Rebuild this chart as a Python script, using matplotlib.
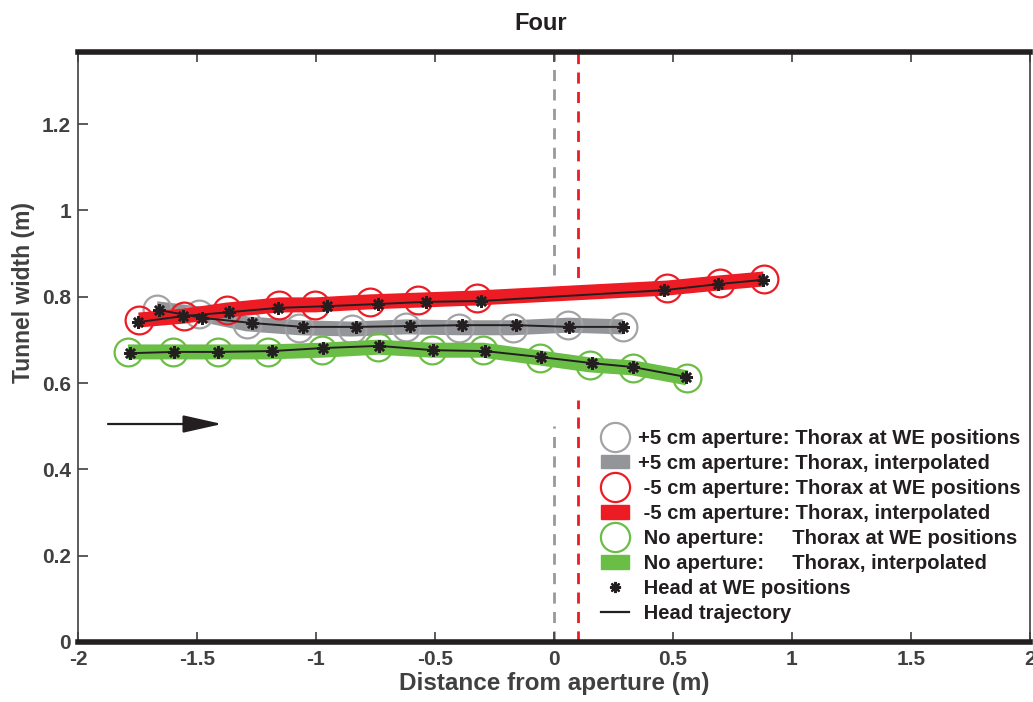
import numpy as np
import matplotlib
matplotlib.use("Agg")
import matplotlib.pyplot as plt
from matplotlib.lines import Line2D
from matplotlib.patches import Patch

plt.rcParams['font.family'] = ['Liberation Sans Narrow', 'Liberation Sans', 'DejaVu Sans']

# +5 cm aperture (gray)
plus_thorax_x = [-1.67, -1.49, -1.29, -1.07, -0.85, -0.62, -0.40, -0.17, 0.06, 0.29]
plus_thorax_y = [0.772, 0.760, 0.737, 0.728, 0.725, 0.730, 0.728, 0.728, 0.734, 0.730]
plus_head_x = [-1.660, -1.479, -1.269, -1.055, -0.832, -0.605, -0.387, -0.160, 0.063, 0.290]
plus_head_y = [0.769, 0.751, 0.739, 0.730, 0.730, 0.732, 0.734, 0.734, 0.730, 0.730]

# -5 cm aperture (red)
minus_thorax_x = [-1.744, -1.555, -1.374, -1.155, -1.004, -0.773, -0.571, -0.324, 0.475, 0.697, 0.882]
minus_thorax_y = [0.746, 0.755, 0.769, 0.781, 0.781, 0.788, 0.792, 0.797, 0.820, 0.832, 0.841]
minus_head_x = [-1.748, -1.559, -1.366, -1.160, -0.954, -0.739, -0.538, -0.307, 0.462, 0.689, 0.878]
minus_head_y = [0.741, 0.755, 0.764, 0.774, 0.778, 0.783, 0.788, 0.790, 0.815, 0.829, 0.839]

# no aperture (green)
none_thorax_x = [-1.790, -1.601, -1.412, -1.202, -0.975, -0.739, -0.513, -0.298, -0.059, 0.151, 0.332, 0.559]
none_thorax_y = [0.672, 0.672, 0.672, 0.672, 0.676, 0.683, 0.676, 0.676, 0.658, 0.642, 0.635, 0.612]
none_head_x = [-1.782, -1.597, -1.412, -1.185, -0.971, -0.735, -0.508, -0.290, -0.055, 0.160, 0.332, 0.555]
none_head_y = [0.669, 0.672, 0.672, 0.674, 0.681, 0.686, 0.676, 0.674, 0.660, 0.646, 0.637, 0.614]

GRAY_C, GRAY_B = "#a3a3a5", "#939598"
RED_C, RED_B = "#ed1c24", "#ed1c24"
GREEN_C, GREEN_B = "#6abd45", "#6abd45"
TXT = "#404041"
INK = "#231f20"

series = [
    (plus_thorax_x, plus_thorax_y, plus_head_x, plus_head_y, GRAY_C, GRAY_B),
    (minus_thorax_x, minus_thorax_y, minus_head_x, minus_head_y, RED_C, RED_B),
    (none_thorax_x, none_thorax_y, none_head_x, none_head_y, GREEN_C, GREEN_B),
]

fig = plt.figure(figsize=(10.33, 7.02), dpi=100)
ax = fig.add_axes([0.0755, 0.0855, 0.9215, 0.8405])

# aperture lines
dash = (0, (4, 3))
ax.plot([0, 0], [0.85, 1.37], color="#999999", lw=2, ls=dash, zorder=1)
ax.plot([0, 0], [0, 0.50], color="#999999", lw=2, ls=dash, zorder=1)
ax.plot([0.1, 0.1], [0.80, 1.37], color="#ed1c24", lw=2, ls=dash, zorder=1)
ax.plot([0.1, 0.1], [0, 0.56], color="#ed1c24", lw=2, ls=dash, zorder=1)

for tx, ty, hx, hy, cc, bc in series:
    ax.plot(tx, ty, color=bc, lw=10.8, solid_capstyle="butt", zorder=2)
    ax.plot(tx, ty, ls="none", marker="o", ms=20, mfc="none", mec=cc, mew=1.6, zorder=2)

for tx, ty, hx, hy, cc, bc in series:
    ax.plot(hx, hy, color=INK, lw=1.4, zorder=3)
    ax.plot(hx, hy, ls="none", marker=(8, 2, 0), ms=9, mec=INK, mew=1.8, zorder=3)

# travel direction arrow
ax.annotate("", xy=(-1.395, 0.505), xytext=(-1.874, 0.505),
            arrowprops=dict(arrowstyle="-|>,head_length=1.2,head_width=0.27",
                            mutation_scale=20, color=INK, lw=1.6,
                            shrinkA=0, shrinkB=0))

ax.set_xlim(-2, 2)
ax.set_ylim(0, 1.367)
xt = [-2, -1.5, -1, -0.5, 0, 0.5, 1, 1.5, 2]
yt = [0, 0.2, 0.4, 0.6, 0.8, 1, 1.2]
ax.set_xticks(xt)
ax.set_xticklabels([f"{v:g}" for v in xt])
ax.set_yticks(yt)
ax.set_yticklabels([f"{v:g}" for v in yt])
ax.tick_params(direction="in", length=7, width=1.2, color=TXT, labelcolor=TXT,
               labelsize=15, top=True, right=False)
ax.tick_params(axis="x", pad=6)
ax.tick_params(axis="y", pad=5)
for lab in ax.get_xticklabels() + ax.get_yticklabels():
    lab.set_fontweight("bold")

for side in ["top", "bottom"]:
    ax.spines[side].set_linewidth(4)
    ax.spines[side].set_color(INK)
for side in ["left", "right"]:
    ax.spines[side].set_linewidth(1.2)
    ax.spines[side].set_color(TXT)

ax.set_xlabel("Distance from aperture (m)", fontsize=17.5, fontweight="bold", color=TXT, labelpad=2)
ax.set_ylabel("Tunnel width (m)", fontsize=16.5, fontweight="bold", color=TXT)
ax.yaxis.set_label_coords(-0.045, 0.593)
ax.set_title("Four", fontsize=17, fontweight="bold", color=INK, pad=16, x=0.486)

handles = [
    Line2D([], [], ls="none", marker="o", ms=21, mfc="none", mec=GRAY_C, mew=1.6),
    Patch(color=GRAY_B),
    Line2D([], [], ls="none", marker="o", ms=21, mfc="none", mec=RED_C, mew=1.6),
    Patch(color=RED_B),
    Line2D([], [], ls="none", marker="o", ms=21, mfc="none", mec=GREEN_C, mew=1.6),
    Patch(color=GREEN_B),
    Line2D([], [], ls="none", marker=(8, 2, 0), ms=8, mec=INK, mew=1.6),
    Line2D([], [], color=INK, lw=1.6),
]
labels = [
    "+5 cm aperture: Thorax at WE positions",
    "+5 cm aperture: Thorax, interpolated",
    " -5 cm aperture: Thorax at WE positions",
    " -5 cm aperture: Thorax, interpolated",
    " No aperture:     Thorax at WE positions",
    " No aperture:     Thorax, interpolated",
    " Head at WE positions",
    " Head trajectory",
]
leg = ax.legend(handles, labels, loc="lower left", bbox_to_anchor=(0.541, 0.018),
                frameon=False, fontsize=14.6, handlelength=1.4, handleheight=0.65,
                handletextpad=0.4, labelspacing=0.3, borderaxespad=0)
for t in leg.get_texts():
    t.set_fontweight("bold")
    t.set_color(INK)

fig.savefig("out.png", dpi=100)
